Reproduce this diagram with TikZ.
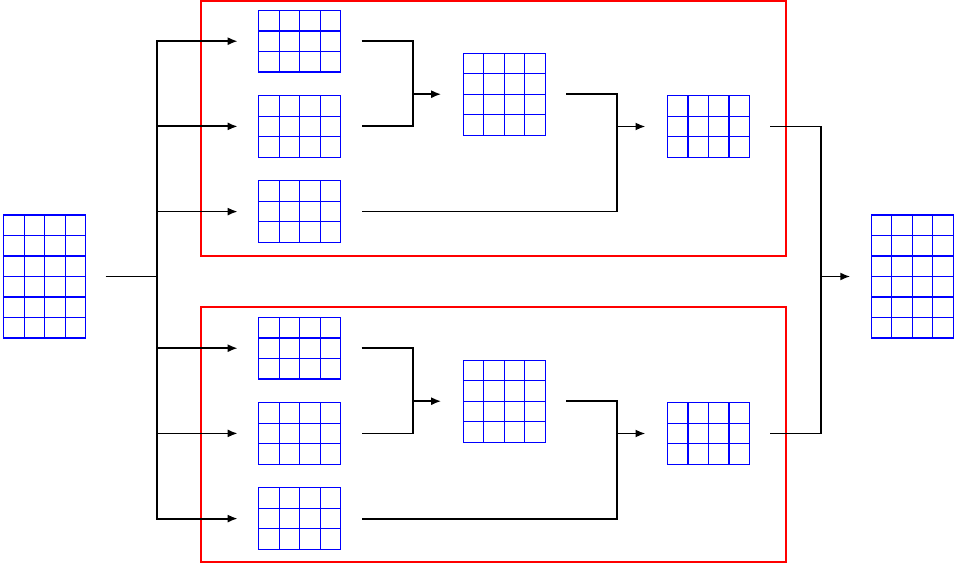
\documentclass[tikz,border=0pt]{standalone}
\usetikzlibrary{calc,arrows.meta}
\begin{document}
\begin{tikzpicture}[x=1pt,y=-1pt,
  cellgrid/.style={draw=blue, line width=1.2pt, minimum width=82pt,
    minimum height=#1*20.5pt, inner sep=0pt, outer sep=0pt,
    path picture={
      \foreach \k in {1,2,3}{
        \draw[blue, line width=1.2pt]
          ($(path picture bounding box.north west)!\k/4!(path picture bounding box.north east)$) --
          ($(path picture bounding box.south west)!\k/4!(path picture bounding box.south east)$);}
      \pgfmathtruncatemacro\gridlast{#1-1}
      \foreach \k in {1,...,\gridlast}{
        \draw[blue, line width=1.2pt]
          ($(path picture bounding box.north west)!\k/#1!(path picture bounding box.south west)$) --
          ($(path picture bounding box.north east)!\k/#1!(path picture bounding box.south east)$);}
    }},
  conn/.style={draw=black, line width=1.8pt},
  arr/.style={conn, -{Latex[length=10pt,width=8pt]}},
  frame/.style={draw=red, line width=1.8pt}]
\useasboundingbox (0,0) rectangle (956,564);

% processing blocks
\draw[frame] (200.7,0.9) rectangle (786.3,255.7);
\draw[frame] (200.7,307.3) rectangle (786.3,562.3);

% input and output grids
\node[cellgrid=6] (in)  at (44.6,276.5) {};
\node[cellgrid=6] (out) at (912.3,276.5) {};

% upper block
\node[cellgrid=3] (a1) at (299.7,41.2) {};
\node[cellgrid=3] (a2) at (299.7,126.4) {};
\node[cellgrid=3] (a3) at (299.7,211.6) {};
\node[cellgrid=4] (b1) at (504.2,94.2) {};
\node[cellgrid=3] (c1) at (708.5,126.5) {};

% lower block
\node[cellgrid=3] (a4) at (299.7,348.2) {};
\node[cellgrid=3] (a5) at (299.7,433.4) {};
\node[cellgrid=3] (a6) at (299.7,518.6) {};
\node[cellgrid=4] (b2) at (504.2,401.2) {};
\node[cellgrid=3] (c2) at (708.5,433.5) {};

% junction points
\coordinate (j0) at (157,276.5);
\coordinate (j1) at (412.7,94.2);
\coordinate (j2) at (616.7,126.5);
\coordinate (j3) at (412.7,401.2);
\coordinate (j4) at (616.7,433.5);
\coordinate (j5) at (821,276.5);

% fan-out from the input
\draw[conn] ([xshift=20pt]in.east) -- (j0);
\foreach \n in {a1,a2,a3,a4,a5,a6}
  \draw[arr] (j0) |- ([xshift=-21pt]\n.west);

% upper block merges
\draw[conn] ([xshift=21pt]a1.east) -| (j1) |- ([xshift=21pt]a2.east);
\draw[arr] (j1) -- ([xshift=-22pt]b1.west);
\draw[conn] ([xshift=21pt]b1.east) -| (j2) |- ([xshift=21pt]a3.east);
\draw[arr] (j2) -- ([xshift=-22pt]c1.west);

% lower block merges
\draw[conn] ([xshift=21pt]a4.east) -| (j3) |- ([xshift=21pt]a5.east);
\draw[arr] (j3) -- ([xshift=-22pt]b2.west);
\draw[conn] ([xshift=21pt]b2.east) -| (j4) |- ([xshift=21pt]a6.east);
\draw[arr] (j4) -- ([xshift=-22pt]c2.west);

% final merge into the output
\draw[conn] ([xshift=20.5pt]c1.east) -| (j5) |- ([xshift=20.5pt]c2.east);
\draw[arr] (j5) -- ([xshift=-21pt]out.west);
\end{tikzpicture}
\end{document}
